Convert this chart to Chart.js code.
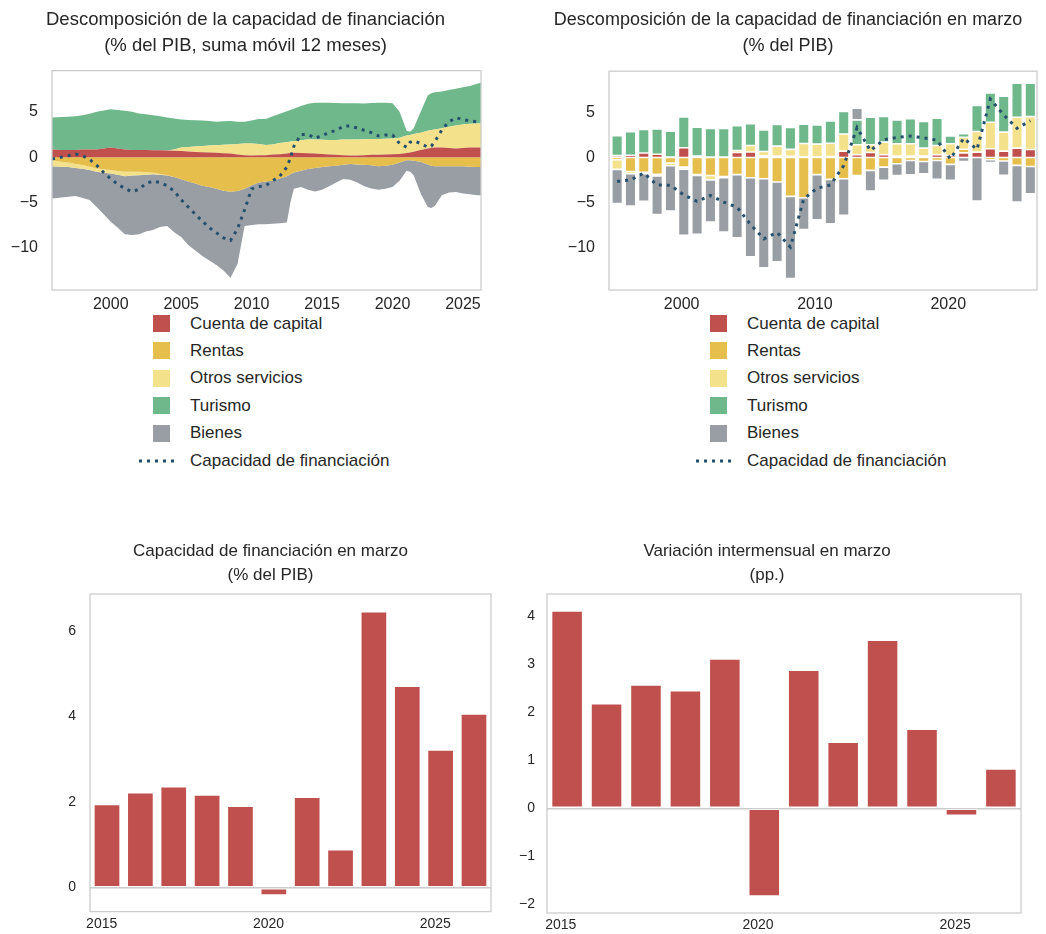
<!DOCTYPE html>
<html lang="es">
<head>
<meta charset="utf-8">
<title>Capacidad de financiación</title>
<script src="https://cdn.jsdelivr.net/npm/chart.js"></script>
<style>
  html, body { margin:0; padding:0; background:#ffffff; }
  body { position:relative; width:1046px; height:934px; overflow:hidden; font-family:"Liberation Sans", Arial, sans-serif; }
  canvas { position:absolute; display:block; }
  .lg-row { position:absolute; white-space:nowrap; font-size:17px; color:#262626; line-height:20px; height:20px; }
  .lg-sw { position:absolute; width:17px; height:17px; }
  .lg-ln { position:absolute; }
</style>
</head>
<body>
<canvas id="c1" width="492" height="314" style="left:0px;top:0px"></canvas>
<canvas id="c2" width="514" height="314" style="left:532px;top:0px"></canvas>
<canvas id="c3" width="461" height="404" style="left:40px;top:530px"></canvas>
<canvas id="c4" width="537" height="404" style="left:505px;top:530px"></canvas>
<div id="lg1"></div>
<div id="lg2"></div>
<script>
// ---------------- names / colours ----------------
const seriesNames = ['Cuenta de capital', 'Rentas', 'Otros servicios', 'Turismo', 'Bienes'];
const seriesColors = ['#c0504d', '#e6be4b', '#f3e18c', '#6eb88c', '#999ea5'];
const lineName = 'Capacidad de financiación';
const lineColor = '#24506e';

const title1 = ['Descomposición de la capacidad de financiación', '(% del PIB, suma móvil 12 meses)'];
const title2 = ['Descomposición de la capacidad de financiación en marzo', '(% del PIB)'];
const title3 = ['Capacidad de financiación en marzo', '(% del PIB)'];
const title4 = ['Variación intermensual en marzo', '(pp.)'];

// ---------------- panel 1: 12-month rolling sums (% GDP) ----------------
const fecha12 = [1995.83, 1996.5, 1997.0, 1997.5, 1998.0, 1998.5, 1999.0, 1999.5, 2000.0, 2000.5,
  2001.0, 2001.5, 2002.0, 2002.5, 2003.0, 2003.5, 2004.0, 2004.5, 2005.0, 2005.5,
  2006.0, 2006.5, 2007.0, 2007.5, 2008.0, 2008.5, 2009.0, 2009.5, 2010.0, 2010.5,
  2011.0, 2011.5, 2012.0, 2012.5, 2012.75, 2013.0, 2013.5, 2014.0, 2014.5, 2015.0,
  2015.5, 2016.0, 2016.5, 2017.0, 2017.5, 2018.0, 2018.5, 2019.0, 2019.5, 2020.0,
  2020.5, 2021.0, 2021.25, 2021.5, 2022.0, 2022.5, 2022.75, 2023.0, 2023.5, 2024.0,
  2024.5, 2025.0, 2025.5, 2026.0, 2026.28];
const capital12 = [0.85, 0.8, 0.8, 0.78, 0.85, 0.85, 0.85, 0.95, 1.07, 0.95,
  0.85, 0.8, 0.8, 0.78, 0.77, 0.75, 0.72, 0.7, 0.68, 0.62,
  0.58, 0.55, 0.5, 0.48, 0.44, 0.4, 0.3, 0.22, 0.18, 0.2,
  0.22, 0.28, 0.32, 0.4, 0.45, 0.48, 0.45, 0.42, 0.4, 0.35,
  0.3, 0.25, 0.2, 0.18, 0.17, 0.2, 0.25, 0.27, 0.3, 0.32,
  0.35, 0.45, 0.5, 0.6, 0.8, 0.95, 1.0, 1.05, 1.07, 1.0,
  0.96, 1.02, 1.07, 1.07, 1.07];
const rentas12 = [-0.35, -0.5, -0.6, -0.75, -0.88, -1.05, -1.25, -1.35, -1.43, -1.52,
  -1.62, -1.62, -1.62, -1.68, -1.73, -1.85, -2.0, -2.2, -2.45, -2.7,
  -2.9, -3.15, -3.3, -3.5, -3.7, -3.82, -3.75, -3.5, -3.1, -2.8,
  -2.7, -2.6, -2.35, -2.1, -1.9, -1.7, -1.5, -1.3, -1.2, -1.1,
  -1.0, -0.95, -0.85, -0.75, -0.8, -0.85, -0.9, -1.0, -0.95, -0.85,
  -0.6, -0.35, -0.35, -0.4, -0.5, -0.8, -0.95, -1.0, -1.0, -1.0,
  -1.0, -1.0, -1.05, -1.1, -1.1];
const otros12 = [-0.65, -0.55, -0.5, -0.45, -0.4, -0.38, -0.37, -0.37, -0.37, -0.42,
  -0.48, -0.42, -0.37, -0.25, -0.15, -0.08, -0.02, 0.15, 0.37, 0.5,
  0.6, 0.67, 0.78, 0.84, 0.92, 1.0, 1.15, 1.28, 1.32, 1.25,
  1.13, 1.12, 1.23, 1.25, 1.27, 1.27, 1.42, 1.53, 1.55, 1.57,
  1.58, 1.65, 1.75, 1.77, 1.78, 1.78, 1.75, 1.73, 1.72, 1.73,
  1.8, 1.95, 1.95, 1.95, 1.88, 1.95, 2.0, 2.0, 2.13, 2.35,
  2.54, 2.58, 2.61, 2.63, 2.65];
const turismo12 = [3.52, 3.62, 3.65, 3.72, 3.78, 3.95, 4.15, 4.2, 4.22, 4.25,
  4.26, 4.2, 4.02, 3.94, 3.86, 3.75, 3.65, 3.4, 3.1, 2.98,
  2.9, 2.83, 2.7, 2.58, 2.59, 2.6, 2.45, 2.4, 2.55, 2.75,
  2.85, 3.1, 3.25, 3.4, 3.48, 3.6, 3.78, 3.95, 4.05, 4.08,
  4.12, 4.08, 4.0, 4.0, 4.0, 3.94, 3.98, 4.0, 3.98, 3.9,
  2.85, 0.5, 0.34, 0.65, 2.32, 3.9, 4.05, 4.1, 4.05, 4.05,
  4.05, 4.1, 4.17, 4.4, 4.48];
const bienes12 = [-3.56, -3.4, -3.28, -3.1, -3.22, -3.31, -3.88, -4.58, -5.33, -5.86,
  -6.4, -6.56, -6.51, -6.27, -6.17, -5.77, -5.58, -6.1, -6.35, -7.0,
  -7.4, -7.75, -8.1, -8.4, -8.8, -9.48, -8.05, -4.1, -4.4, -4.6,
  -4.7, -4.75, -4.95, -5.1, -3.1, -1.8, -1.8, -2.3, -2.6, -2.5,
  -2.2, -1.85, -1.55, -1.75, -2.0, -2.35, -2.55, -2.6, -2.55, -2.45,
  -2.0, -1.15, -1.25, -1.6, -3.5, -4.7, -4.65, -4.4, -3.2, -2.9,
  -2.85, -3.0, -3.05, -3.1, -3.1];
const capacidad12 = [-0.2, 0.0, 0.15, 0.35, 0.15, -0.25, -0.9, -1.7, -2.4, -3.0,
  -3.46, -3.82, -3.55, -2.9, -2.65, -2.8, -3.15, -3.75, -4.7, -5.5,
  -6.3, -7.05, -7.8, -8.35, -8.9, -9.2, -7.9, -5.8, -3.5, -3.25,
  -3.15, -2.6, -2.1, -1.1, -0.1, 1.2, 2.5, 2.5, 2.1, 2.35,
  2.75, 2.95, 3.4, 3.45, 3.2, 2.95, 2.7, 2.35, 2.45, 2.45,
  1.5, 1.1, 1.65, 1.8, 1.5, 1.1, 1.2, 1.7, 3.0, 3.9,
  4.35, 4.15, 4.0, 3.9, 3.85];

// ---------------- panel 2: March values (% GDP) ----------------
const anosMarzo = [1995, 1996, 1997, 1998, 1999, 2000, 2001, 2002, 2003, 2004, 2005, 2006, 2007, 2008, 2009, 2010,
  2011, 2012, 2013, 2014, 2015, 2016, 2017, 2018, 2019, 2020, 2021, 2022, 2023, 2024, 2025, 2026];
const capitalM = [0.2, 0.25, 0.5, 0.35, 0.05, 1.07, 0.15, 0.05, 0.05, 0.55, 0.6, 0.18, 0.15, 0.12, 0.08, 0.07,
  0.1, 0.7, 0.3, 0.55, 0.3, 0.15, 0.15, 0.15, 0.3, 0.22, 0.51, 0.59, 0.96, 0.7, 1.03, 0.88];
const rentasM = [-0.25, -1.55, -1.65, -1.87, -0.62, -1.07, -1.9, -2.0, -2.1, -1.9, -2.24, -2.35, -2.72, -4.3, -4.45, -1.9,
  -2.43, -2.35, -1.99, -1.43, -1.07, -0.7, -0.33, -0.44, -0.33, -0.77, 0.4, 0.0, -0.26, -0.4, -0.88, -1.0];
const otrosM = [-1.07, -0.25, -0.15, -0.18, -0.3, -0.22, -0.1, -0.48, -0.15, 0.22, 0.73, 0.48, 1.1, 0.77, 1.47, 1.4,
  1.47, 1.9, 1.1, 0.85, 1.4, 1.36, 1.36, 0.88, 1.03, 1.29, 1.32, 2.28, 2.94, 2.1, 3.42, 3.64];
const turismoM = [2.2, 2.6, 2.59, 2.8, 2.85, 3.42, 3.2, 3.15, 3.15, 2.73, 2.39, 2.39, 2.39, 2.43, 2.13, 2.13,
  2.46, 2.5, 2.76, 3.05, 2.83, 2.65, 2.79, 2.94, 3.01, 0.88, 0.4, 2.87, 3.24, 3.97, 3.75, 3.68];
const bienesM = [-3.79, -3.57, -3.05, -4.26, -5.0, -7.32, -6.5, -4.67, -6.0, -7.0, -8.75, -9.85, -8.82, -9.08, -3.53, -5.0,
  -4.9, -4.04, 1.29, -2.28, -1.47, -1.29, -1.58, -1.36, -2.1, -1.76, -0.44, -4.82, -0.3, -1.58, -4.04, -3.01];
const capacidadM = [-2.65, -2.5, -1.73, -3.05, -3.07, -4.15, -4.85, -4.2, -4.93, -5.5, -7.4, -9.0, -8.3, -9.9, -4.6, -3.4,
  -3.05, -0.9, 3.3, 0.75, 1.95, 2.22, 2.36, 2.17, 1.91, -0.18, 2.12, 0.89, 6.45, 4.71, 3.22, 4.06];

// ---------------- panels 3 & 4 ----------------
const anosRecientes = [2015, 2016, 2017, 2018, 2019, 2020, 2021, 2022, 2023, 2024, 2025, 2026];
const capacidadMarzo = [1.95, 2.22, 2.36, 2.17, 1.91, -0.18, 2.12, 0.89, 6.45, 4.71, 3.22, 4.06];
const variacionMarzo = [4.11, 2.18, 2.57, 2.45, 3.11, -1.83, 2.88, 1.38, 3.5, 1.65, -0.15, 0.82];
const barColor = '#c0504d';
const marchOffset = 0.16; // March within the year

// ---------------- helpers ----------------
const FONT = '"Liberation Sans", Arial, sans-serif';
Chart.defaults.font.family = FONT;
Chart.defaults.color = '#262626';
Chart.defaults.animation = false;

const fmt = v => (v < 0 ? '\u2212' + Math.abs(v) : String(v));

const framePlugin = {
  id: 'frame',
  afterDatasetsDraw(chart) {
    const { ctx, chartArea: a } = chart;
    ctx.save();
    ctx.strokeStyle = '#cccccc';
    ctx.lineWidth = 1.3;
    ctx.strokeRect(a.left, a.top, a.right - a.left, a.bottom - a.top);
    ctx.restore();
  }
};

function axisX(min, max, step, size, pad, h) {
  return {
    type: 'linear', min, max, offset: false,
    grid: { display: false, drawTicks: false }, border: { display: false },
    ticks: { stepSize: step, includeBounds: false, autoSkip: false, maxRotation: 0, minRotation: 0,
      padding: pad, font: { size }, color: '#262626', callback: v => String(v) },
    afterFit: s => { s.height = h; }
  };
}
function axisY(min, max, step, size, pad, w, zeroLine) {
  return {
    type: 'linear', min, max,
    grid: zeroLine
      ? { display: true, drawTicks: false, lineWidth: 1.5,
          color: c => (c.tick && c.tick.value === 0) ? '#cccccc' : 'rgba(0,0,0,0)' }
      : { display: false, drawTicks: false },
    border: { display: false },
    ticks: { stepSize: step, includeBounds: false, autoSkip: false, padding: pad, font: { size },
      color: '#262626', callback: v => fmt(v) },
    afterFit: s => { s.width = w; }
  };
}
function titleOpts(lines, size, lh, pt, pb) {
  return { display: true, text: lines, color: '#262626',
    font: { size, weight: 'normal', lineHeight: lh }, padding: { top: pt, bottom: pb } };
}

// ---------------- panel 1 ----------------
const comps12 = [capital12, rentas12, otros12, turismo12, bienes12];
const n12 = fecha12.length;
let posPrev = new Array(n12).fill(0), negPrev = new Array(n12).fill(0);
const ds1 = [];
comps12.forEach((arr, k) => {
  const pos = fecha12.map((_, i) => posPrev[i] + Math.max(arr[i], 0));
  const neg = fecha12.map((_, i) => negPrev[i] + Math.min(arr[i], 0));
  ds1.push({ label: seriesNames[k], data: fecha12.map((x, i) => ({ x, y: pos[i] })),
    fill: k === 0 ? 'origin' : 2 * (k - 1), backgroundColor: seriesColors[k],
    borderWidth: 0, pointRadius: 0, tension: 0, order: 2 });
  ds1.push({ label: seriesNames[k] + ' (neg)', data: fecha12.map((x, i) => ({ x, y: neg[i] })),
    fill: k === 0 ? 'origin' : 2 * (k - 1) + 1, backgroundColor: seriesColors[k],
    borderWidth: 0, pointRadius: 0, tension: 0, order: 2 });
  posPrev = pos; negPrev = neg;
});
ds1.push({ label: lineName, data: fecha12.map((x, i) => ({ x, y: capacidad12[i] })),
  borderColor: lineColor, borderWidth: 3, borderDash: [3, 5], borderCapStyle: 'butt',
  pointRadius: 0, fill: false, tension: 0, order: 0 });

new Chart(document.getElementById('c1'), {
  type: 'line',
  data: { datasets: ds1 },
  options: {
    responsive: false, animation: false,
    layout: { padding: { left: 10, right: 11, top: 0, bottom: 0 } },
    plugins: { legend: { display: false }, tooltip: { enabled: false },
      title: titleOpts(title1, 18.5, 1.41, 7, 11.5) },
    scales: { x: axisX(1995.83, 2026.28, 5, 16, 5, 24), y: axisY(-14.66, 9.54, 5, 16, 14, 42, false) }
  },
  plugins: [framePlugin]
});

// ---------------- panel 2 ----------------
const compsM = [capitalM, rentasM, otrosM, turismoM, bienesM];
const ds2 = compsM.map((arr, k) => ({
  type: 'bar', label: seriesNames[k], stack: 'componentes',
  data: anosMarzo.map((y, i) => ({ x: y + marchOffset, y: arr[i] })),
  backgroundColor: seriesColors[k], borderColor: 'rgba(255,255,255,0.55)', borderWidth: 0.8,
  borderSkipped: false, barPercentage: 1.0, categoryPercentage: 0.8, order: 1
}));
ds2.push({ type: 'line', label: lineName, stack: 'capacidad',
  data: anosMarzo.map((y, i) => ({ x: y + marchOffset, y: capacidadM[i] })),
  borderColor: lineColor, borderWidth: 3, borderDash: [3, 5], borderCapStyle: 'butt',
  pointRadius: 0, fill: false, tension: 0, order: 0 });

new Chart(document.getElementById('c2'), {
  type: 'bar',
  data: { datasets: ds2 },
  options: {
    responsive: false, animation: false,
    layout: { padding: { left: 7, right: 9, top: 0, bottom: 0 } },
    plugins: { legend: { display: false }, tooltip: { enabled: false },
      title: titleOpts(title2, 18, 1.45, 7, 12) },
    scales: {
      x: Object.assign(axisX(1994.55, 2026.66, 10, 16, 5, 24), { stacked: true }),
      y: Object.assign(axisY(-14.66, 9.54, 5, 16, 14, 70, false), { stacked: true })
    }
  },
  plugins: [framePlugin]
});

// ---------------- panels 3 & 4 ----------------
function simpleBars(id, values, title, ymin, ymax, ystep, ywidth, ypad, padLeft, padRight) {
  new Chart(document.getElementById(id), {
    type: 'bar',
    data: { datasets: [{
      label: title[0],
      data: anosRecientes.map((y, i) => ({ x: y + marchOffset, y: values[i] })),
      backgroundColor: barColor, borderColor: 'rgba(255,255,255,0.6)', borderWidth: 1,
      borderSkipped: false, barPercentage: 1.0, categoryPercentage: 0.8
    }] },
    options: {
      responsive: false, animation: false,
      layout: { padding: { left: padLeft, right: padRight, top: 0, bottom: 0 } },
      plugins: { legend: { display: false }, tooltip: { enabled: false },
        title: titleOpts(title, 17, 24 / 17, 9, 7) },
      scales: {
        x: axisX(2014.65, 2026.67, 5, 14, 4, 21),
        y: axisY(ymin, ymax, ystep, 14, ypad, ywidth, true)
      }
    },
    plugins: [framePlugin]
  });
}
simpleBars('c3', capacidadMarzo, title3, -0.56, 6.86, 2, 40, 14, 10, 10);
simpleBars('c4', variacionMarzo, title4, -2.18, 4.46, 1, 34, 12, 8, 21);

// ---------------- legends ----------------
function buildLegend(id, sqLeft) {
  const host = document.getElementById(id);
  const top0 = 315, step = 27.4;
  seriesNames.forEach((name, k) => {
    const top = top0 + k * step;
    const sw = document.createElement('div');
    sw.className = 'lg-sw';
    sw.style.left = sqLeft + 'px'; sw.style.top = top + 'px';
    sw.style.background = seriesColors[k];
    host.appendChild(sw);
    const tx = document.createElement('div');
    tx.className = 'lg-row';
    tx.style.left = (sqLeft + 37) + 'px'; tx.style.top = (top + 8.5 - 10) + 'px';
    tx.textContent = name;
    host.appendChild(tx);
  });
  const yc = top0 + 5 * step + 8.5;
  const ln = document.createElementNS('http://www.w3.org/2000/svg', 'svg');
  ln.setAttribute('width', '40'); ln.setAttribute('height', '6');
  ln.setAttribute('class', 'lg-ln');
  ln.style.left = (sqLeft - 14) + 'px'; ln.style.top = (yc - 3) + 'px';
  const l = document.createElementNS('http://www.w3.org/2000/svg', 'line');
  l.setAttribute('x1', '0'); l.setAttribute('y1', '3'); l.setAttribute('x2', '40'); l.setAttribute('y2', '3');
  l.setAttribute('stroke', lineColor); l.setAttribute('stroke-width', '3'); l.setAttribute('stroke-dasharray', '3 5');
  ln.appendChild(l);
  host.appendChild(ln);
  const tx = document.createElement('div');
  tx.className = 'lg-row';
  tx.style.left = (sqLeft + 37) + 'px'; tx.style.top = (yc - 10) + 'px';
  tx.textContent = lineName;
  host.appendChild(tx);
}
buildLegend('lg1', 153);
buildLegend('lg2', 710);
</script>
</body>
</html>
